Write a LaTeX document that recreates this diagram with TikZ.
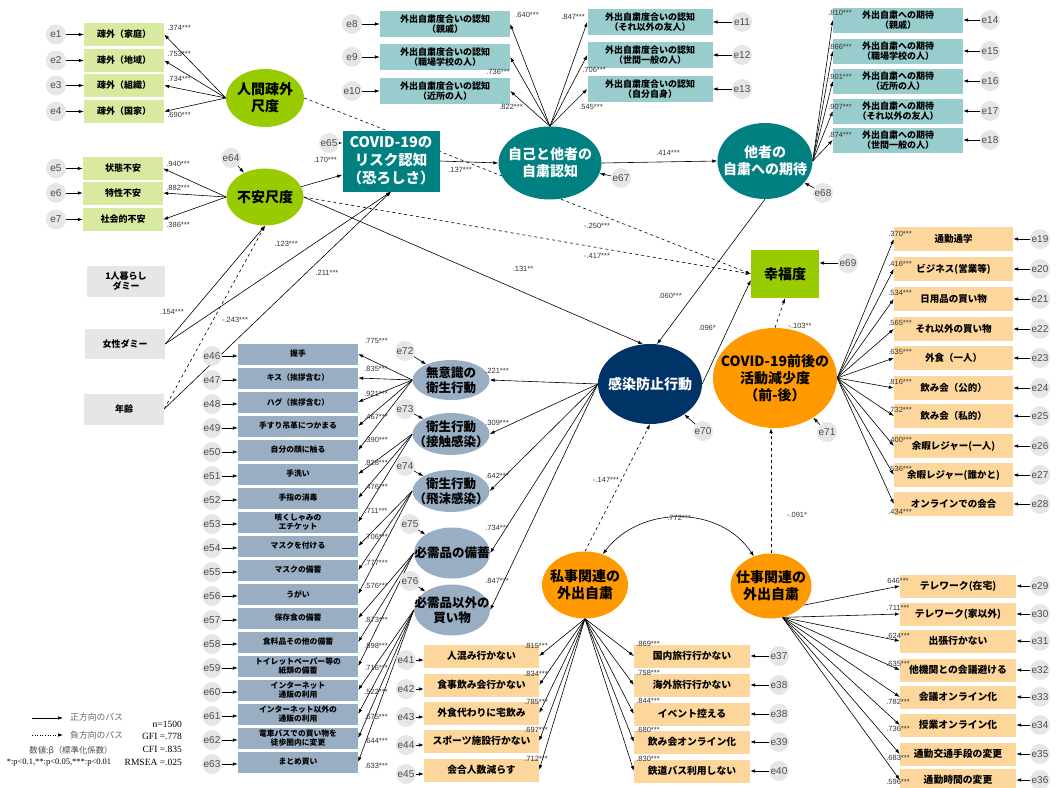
\documentclass[tikz,border=0pt]{standalone}
\usepackage{fontspec}
\setmainfont{Noto Sans CJK JP}
\newfontfamily\numfont{Liberation Sans}
\newfontfamily\legfont{Liberation Serif}
\usetikzlibrary{shapes.geometric,arrows.meta,backgrounds}

\definecolor{lgreen}{RGB}{216,234,160}
\definecolor{ygreen}{RGB}{153,204,0}
\definecolor{tealc}{RGB}{0,128,128}
\definecolor{lteal}{RGB}{153,204,204}
\definecolor{navyc}{RGB}{0,51,102}
\definecolor{orangec}{RGB}{255,153,0}
\definecolor{lorange}{RGB}{253,214,155}
\definecolor{bgrey}{RGB}{153,174,195}
\definecolor{egrey}{RGB}{230,230,230}

\tikzset{
  obs/.style={rectangle, inner sep=0pt, align=center,
    font=\bfseries\fontsize{9}{10.5}\selectfont},
  lat/.style={ellipse, inner sep=0pt},
  ltext/.style={align=center, inner sep=0pt,
    font=\bfseries\fontsize{14}{17}\selectfont},
  stext/.style={ltext, font=\bfseries\fontsize{12.5}{15}\selectfont},
  err/.style={circle, fill=egrey, minimum size=20pt, inner sep=0pt,
    font=\numfont\fontsize{10}{10}\selectfont, text=black!70},
  coef/.style={inner sep=0pt, font=\numfont\fontsize{7.5}{8}\selectfont,
    text=black!80},
  pospath/.style={-{Latex[length=5pt,width=3.5pt]}, line width=0.6pt},
  negpath/.style={pospath, dashed},
  bothpath/.style={{Latex[length=5pt,width=3.5pt]}-{Latex[length=5pt,width=3.5pt]},
    line width=0.6pt}
}

\begin{document}
\begin{tikzpicture}[x=1pt,y=-1pt]
  \useasboundingbox (0,0) rectangle (1060,787);

  % latent variables
  \node[lat, fill=ygreen, minimum width=78pt, minimum height=58pt,
    label={[ltext]center:{人間疎外\\尺度}}] (L1) at (265,98) {};
  \node[lat, fill=ygreen, minimum width=77pt, minimum height=57pt,
    label={[ltext]center:{不安尺度}}] (L2) at (265,197) {};
  \node[rectangle, fill=tealc, minimum width=97pt, minimum height=61pt,
    text=white, align=center, font=\bfseries\fontsize{14.5}{18}\selectfont]
    (R) at (391,161) {COVID-19の\\リスク認知\\（恐ろしさ）};
  \node[lat, fill=tealc, minimum width=103pt, minimum height=73pt,
    label={[ltext,text=white]center:{自己と他者の\\自粛認知}}] (S) at (550,163) {};
  \node[lat, fill=tealc, minimum width=95pt, minimum height=76pt,
    label={[ltext,text=white]center:{他者の\\自粛への期待}}] (T) at (765,161) {};
  \node[rectangle, fill=ygreen, minimum width=68pt, minimum height=48pt,
    font=\bfseries\fontsize{14}{17}\selectfont] (H) at (785,274) {幸福度};
  \node[lat, fill=navyc, minimum width=104pt, minimum height=80pt,
    label={[ltext,text=white]center:{感染防止行動}}] (P) at (650,384) {};
  \node[lat, fill=orangec, minimum width=124pt, minimum height=100pt,
    label={[ltext]center:{COVID-19前後の\\活動減少度\\（前-後）}}] (D) at (775,378) {};
  \node[lat, fill=orangec, minimum width=86pt, minimum height=67pt,
    label={[ltext]center:{私事関連の\\外出自粛}}] (W) at (585,585) {};
  \node[lat, fill=orangec, minimum width=81pt, minimum height=65pt,
    label={[ltext]center:{仕事関連の\\外出自粛}}] (J) at (771,586) {};

  \node[lat, fill=bgrey, minimum width=77pt, minimum height=40pt,
    label={[stext]center:{無意識の\\衛生行動}}] (N1) at (451,380) {};
  \node[lat, fill=bgrey, minimum width=77pt, minimum height=42pt,
    label={[stext]center:{衛生行動\\（接触感染）}}] (N2) at (451,434) {};
  \node[lat, fill=bgrey, minimum width=77pt, minimum height=42pt,
    label={[stext]center:{衛生行動\\（飛沫感染）}}] (N3) at (451,491) {};
  \node[lat, fill=bgrey, minimum width=76pt, minimum height=51pt,
    label={[stext]center:{必需品の備蓄}}] (N4) at (452,553) {};
  \node[lat, fill=bgrey, minimum width=76pt, minimum height=51pt,
    label={[stext]center:{必需品以外の\\買い物}}] (N5) at (452,610) {};

  % exogenous
  \node[obs, fill=egrey, minimum width=78pt, minimum height=31pt] (d1) at (126,281) {1人暮らし\\ダミー};
  \node[obs, fill=egrey, minimum width=80pt, minimum height=30pt] (d2) at (125,344) {女性ダミー};
  \node[obs, fill=egrey, minimum width=80pt, minimum height=31pt] (d3) at (124,409) {年齢};

  % indicators
  \foreach \i/\y/\t/\cy/\c in {1/34.5/疎外（家庭）/28/.374***, 2/60.5/疎外（地域）/54/.753***,
      3/85.5/疎外（組織）/79/.734***, 4/111.5/疎外（国家）/115/.690***}{
    \node[obs, fill=lgreen, minimum width=80pt, minimum height=23pt] (a\i) at (124,\y) {\t};
    \node[err] (e\i) at (56,\y) {e\i};
    \node[coef] (ca\i) at (179,\cy) {\c};
  }
  \foreach \i/\y/\t/\cy/\c in {5/168.5/状態不安/164/.940***, 6/193/特性不安/188/.882***,
      7/219.5/社会的不安/225/.386***}{
    \node[obs, fill=lgreen, minimum width=80pt, minimum height=23pt] (b\i) at (123,\y) {\t};
    \node[err] (e\i) at (56,\y) {e\i};
    \node[coef] (cb\i) at (178,\cy) {\c};
  }
  \foreach \i/\y/\t/\cx/\cy/\c in {8/24/（親戚）/527/15/.640***, 9/57/（職場学校の人）/498/72/.736***,
      10/91/（近所の人）/511/107/.822***}{
    \node[obs, fill=lteal, minimum width=130pt, minimum height=26pt] (s\i) at (445,\y) {外出自粛度合いの認知\\\t};
    \node[err] (e\i) at (352,\y) {e\i};
    \node[coef] (cs\i) at (\cx,\cy) {\c};
  }
  \foreach \i/\y/\t/\cx/\cy/\c in {11/22/（それ以外の友人）/573/17/.847***, 12/55/（世間一般の人）/594/70/.706***,
      13/89/（自分自身）/591/107/.545***}{
    \node[obs, fill=lteal, minimum width=125pt, minimum height=26pt] (s\i) at (650,\y) {外出自粛度合いの認知\\\t};
    \node[err] (e\i) at (742,\y) {e\i};
    \node[coef] (cs\i) at (\cx,\cy) {\c};
  }
  \foreach \i/\y/\t/\cy/\c in {14/20/（親戚）/13/.810***, 15/51/（職場学校の人）/47/.866***,
      16/81/（近所の人）/77/.901***, 17/111/（それ以外の友人）/107/.907***,
      18/140/（世間一般の人）/135/.874***}{
    \node[obs, fill=lteal, minimum width=130pt, minimum height=25pt] (t\i) at (898,\y) {外出自粛への期待\\\t};
    \node[err] (e\i) at (990,\y) {e\i};
    \node[coef] (ct\i) at (840,\cy) {\c};
  }
  \foreach \i/\y/\t/\cy/\c in {19/239/通勤通学/234/.370***, 20/269/ビジネス(営業等)/264/.416***,
      21/299/日用品の買い物/293/.534***, 22/329/それ以外の買い物/323/.565***,
      23/358/外食（一人）/352/.635***, 24/388/飲み会（公的）/382/.816***,
      25/416/飲み会（私的）/410/.732***, 26/446/余暇レジャー(一人)/440/.400***,
      27/475/余暇レジャー(誰かと)/469/.536***, 28/504/オンラインでの会合/512/.434***}{
    \node[obs, fill=lorange, minimum width=119pt, minimum height=24pt,
      font=\bfseries\fontsize{9.5}{11}\selectfont] (r\i) at (953.5,\y) {\t};
    \node[err] (e\i) at (1040,\y) {e\i};
    \node[coef] (cr\i) at (900,\cy) {\c};
  }
  \foreach \i/\y/\t/\cy/\c in {29/586/テレワーク(在宅)/581/646***, 30/614/テレワーク(家以外)/608/.711***,
      31/641/出張行かない/636/.624***, 32/670/他機関との会議避ける/664/.635***,
      33/697/会議オンライン化/702/.782***, 34/725/授業オンライン化/729/.736***,
      35/754/通勤交通手段の変更/758/.683***, 36/780/通勤時間の変更/782/.596***}{
    \node[obs, fill=lorange, minimum width=116pt, minimum height=23pt,
      font=\bfseries\fontsize{9.8}{11}\selectfont] (j\i) at (958,\y) {\t};
    \node[err] (e\i) at (1040,\y) {e\i};
    \node[coef] (cj\i) at (898,\cy) {\c};
  }
  \foreach \i/\y/\t/\cy/\c in {41/656/人混み行かない/646/.815***, 42/685/食事飲み会行かない/674/.834***,
      43/713/外食代わりに宅飲み/702/.785***, 44/741/スポーツ施設行かない/730/.697***,
      45/770/会合人数減らす/759/.712***}{
    \node[obs, fill=lorange, minimum width=115pt, minimum height=23pt,
      font=\bfseries\fontsize{9.8}{11}\selectfont] (w\i) at (481.5,\y) {\t};
    \node[err] (e\i) at (406,\y+4) {e\i};
    \node[coef] (cw\i) at (536,\cy) {\c};
  }
  \foreach \k/\y/\t/\cy/\c/\en in {1/656/国内旅行行かない/644/.869***/e37, 2/685/海外旅行行かない/673/.758***/e38,
      3/714/イベント控える/701/.844***/e38, 4/742/飲み会オンライン化/730/.680***/e39,
      5/771/鉄道バス利用しない/759/.830***/e40}{
    \node[obs, fill=lorange, minimum width=116pt, minimum height=23pt,
      font=\bfseries\fontsize{9.8}{11}\selectfont] (v\k) at (692,\y) {\t};
    \node[err] (ev\k) at (779,\y) {\en};
    \node[coef] (cv\k) at (648,\cy) {\c};
  }
  \foreach \k/\t/\cy/\c in {1/握手/341/.775***, 2/キス（挨拶含む）/369/.835***, 3/ハグ（挨拶含む）/394/.921***,
      4/手すり吊革につかまる/417/.467***, 5/自分の顔に触る/440/.390***, 6/手洗い/463/.828***,
      7/手指の消毒/487/.476***, 8/{咳くしゃみの\\エチケット}/511/.711***, 9/マスクを付ける/537/.706***,
      10/マスクの備蓄/563/.777***, 11/うがい/586/.576***, 12/保存食の備蓄/620/.873***,
      13/食料品その他の備蓄/646/.898***, 14/{トイレットペーパー等の\\紙類の備蓄}/668/.716***,
      15/{インターネット\\通販の利用}/692/.522***, 16/{インターネット以外の\\通販の利用}/717/.675***,
      17/{電車バスでの買い物を\\徒歩圏内に変更}/741/.644***, 18/まとめ買い/766/.633***}{
    \pgfmathsetmacro\y{330+24*\k}
    \pgfmathtruncatemacro\en{45+\k}
    \node[obs, fill=bgrey, minimum width=120pt, minimum height=21pt,
      font=\bfseries\fontsize{7.8}{8.6}\selectfont] (g\k) at (298,\y) {\t};
    \node[err] (eg\k) at (212,\y+2) {e\en};
    \node[coef] (cg\k) at (376,\cy) {\c};
  }

  % disturbances
  \node[err] (e64) at (231,158) {e64};
  \node[err] (e65) at (329,143) {e65};
  \node[err] (e67) at (621,178) {e67};
  \node[err] (e68) at (823,193) {e68};
  \node[err] (e69) at (848,263) {e69};
  \node[err] (e70) at (703,431) {e70};
  \node[err] (e71) at (827,432) {e71};
  \node[err] (e72) at (405,351) {e72};
  \node[err] (e73) at (405,409) {e73};
  \node[err] (e74) at (405,466) {e74};
  \node[err] (e75) at (410,524) {e75};
  \node[err] (e76) at (410,581) {e76};

  % structural coefficients
  \node[coef] (p1) at (325,160) {.170***};
  \node[coef] (p2) at (460,170) {.137***};
  \node[coef] (p3) at (668,153) {.414***};
  \node[coef] (p4) at (597,226) {-.250***};
  \node[coef] (p5) at (597,256) {-.417***};
  \node[coef] (p6) at (523,269) {.131**};
  \node[coef] (p7) at (670,296) {.060***};
  \node[coef] (p8) at (707,328) {.096*};
  \node[coef] (p9) at (800,326) {-.103**};
  \node[coef] (p10) at (286,244) {.123***};
  \node[coef] (p11) at (327,273) {.211***};
  \node[coef] (p12) at (172,312) {.154***};
  \node[coef] (p13) at (235,320) {-.243***};
  \node[coef] (p14) at (606,480) {-.147***};
  \node[coef] (p15) at (797,515) {-.091*};
  \node[coef] (p16) at (679,518) {.772***};
  \node[coef] (q1) at (497,371) {.221***};
  \node[coef] (q2) at (497,423) {.309***};
  \node[coef] (q3) at (497,476) {.642***};
  \node[coef] (q4) at (497,528) {.734***};
  \node[coef] (q5) at (497,581) {.847***};

  % legend
  \coordinate (k1) at (32,718);
  \coordinate (k2) at (63,718);
  \coordinate (k3) at (32,735);
  \coordinate (k4) at (63,735);
  \draw[pospath] (k1) -- (k2);
  \draw[pospath, dotted] (k3) -- (k4);
  \node[anchor=west, inner sep=0pt, text=black!60, font=\fontsize{8.8}{10}\selectfont] (lg1) at (70,717) {正方向のパス};
  \node[anchor=west, inner sep=0pt, text=black!60, font=\fontsize{8.8}{10}\selectfont] (lg2) at (70,735) {負方向のパス};
  \node[inner sep=0pt, text=black!70, font=\fontsize{8.4}{10}\selectfont] (lg3) at (71,751) {数値:β（標準化係数）};
  \node[inner sep=0pt, font=\legfont\fontsize{8.5}{10}\selectfont] (lg4) at (59,763) {*:p<0.1,**:p<0.05,***:p<0.01};
  \node[anchor=east, inner sep=0pt, font=\legfont\fontsize{9.5}{11}\selectfont] (fit1) at (182,724) {n=1500};
  \node[anchor=east, inner sep=0pt, font=\legfont\fontsize{9.5}{11}\selectfont] (fit2) at (182,736) {GFI =.778};
  \node[anchor=east, inner sep=0pt, font=\legfont\fontsize{9.5}{11}\selectfont] (fit3) at (182,749) {CFI =.835};
  \node[anchor=east, inner sep=0pt, font=\legfont\fontsize{9.5}{11}\selectfont] (fit4) at (182,762) {RMSEA =.025};

  % paths
  \begin{scope}[on background layer]
    \foreach \i in {1,...,4}{
      \draw[pospath] (e\i) -- (a\i);
      \draw[pospath] (L1.west) -- (a\i.east);
    }
    \foreach \i in {5,6,7}{
      \draw[pospath] (e\i) -- (b\i);
      \draw[pospath] (L2.west) -- (b\i.east);
    }
    \foreach \i in {8,9,10}{
      \draw[pospath] (e\i) -- (s\i);
      \draw[pospath] (S.north) -- (s\i.east);
    }
    \foreach \i in {11,12,13}{
      \draw[pospath] (e\i) -- (s\i);
      \draw[pospath] (S.north) -- (s\i.west);
    }
    \foreach \i in {14,...,18}{
      \draw[pospath] (e\i) -- (t\i);
      \draw[pospath] (T.east) -- (t\i.west);
    }
    \foreach \i in {19,...,28}{
      \draw[pospath] (e\i) -- (r\i);
      \draw[pospath] (D.east) -- (r\i.west);
    }
    \draw[pospath] (e29) -- (j29);
    \draw[pospath] (J.-30) -- (j29.west);
    \foreach \i in {30,...,36}{
      \draw[pospath] (e\i) -- (j\i);
      \draw[pospath] (J.-70) -- (j\i.west);
    }
    \foreach \i in {41,...,45}{
      \draw[pospath] (e\i) -- (e\i -| w\i.west);
      \draw[pospath] (W.south) -- (w\i.east);
    }
    \foreach \k in {1,...,5}{
      \draw[pospath] (ev\k) -- (v\k);
      \draw[pospath] (W.south) -- (v\k.west);
    }
    \foreach \k in {1,...,18}{
      \draw[pospath] (eg\k) -- (eg\k -| g\k.west);
    }
    \foreach \k in {1,...,5}{
      \draw[pospath] (N1.west) -- (g\k.east);
    }
    \foreach \k in {6,7,8}{
      \draw[pospath] (N2.west) -- (g\k.east);
    }
    \foreach \k in {9,10,11}{
      \draw[pospath] (N3.west) -- (g\k.east);
    }
    \foreach \k in {12,13,14}{
      \draw[pospath] (N4.west) -- (g\k.east);
    }
    \foreach \k in {15,...,18}{
      \draw[pospath] (N5.west) -- (g\k.east);
    }
    \foreach \k in {1,...,5}{
      \draw[pospath] (P.west) -- (N\k.east);
      \pgfmathtruncatemacro\en{71+\k}
      \draw[pospath] (e\en) -- (N\k);
    }

    \draw[pospath] (e64) -- (L2);
    \draw[pospath] (e65) -- (e65 -| R.west);
    \draw[pospath] (e67) -- (S);
    \draw[pospath] (e68) -- (T);
    \draw[pospath] (e69) -- (e69 -| H.east);
    \draw[pospath] (e70) -- (P);
    \draw[pospath] (e71) -- (D);

    \draw[negpath] (L1.east) -- (H.west);
    \draw[negpath] (L2.east) -- (H.west);
    \draw[pospath] (L2) -- (R);
    \draw[pospath] (L2.east) -- (P.100);
    \draw[pospath] (R.east) -- (S.west);
    \draw[pospath] (S.east) -- (T.west);
    \draw[pospath] (T.south) -- (P.80);
    \draw[pospath] (P.east) -- ([yshift=-6pt]H.west);
    \draw[negpath] (D.north) -- (H.south);
    \draw[pospath] (d2.east) -- (L2.south);
    \draw[pospath] (d2.east) -- (R.south);
    \draw[negpath] (d3.east) -- (L2.south);
    \draw[pospath] (d3.east) -- (R.south);
    \draw[negpath] (W.north) -- (P.south);
    \draw[negpath] (J.north) -- (J.north |- D.south);
    \draw[bothpath] (W.60) .. controls (640,505) and (720,505) .. (J.120);
  \end{scope}
\end{tikzpicture}
\end{document}
